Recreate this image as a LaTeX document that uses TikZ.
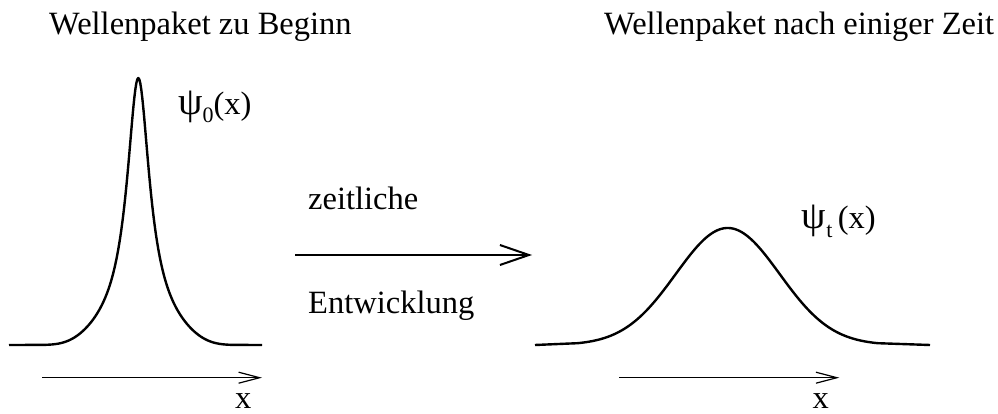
\documentclass[tikz,border=0pt]{standalone}
\usepackage{fontspec}
\setmainfont{Liberation Serif}
\usetikzlibrary{positioning,arrows.meta}

\begin{document}
\begin{tikzpicture}[
            x=1pt, y=-1pt,
            font=\fontsize{32.5}{39}\selectfont,
            txt/.style={inner sep=0pt, anchor=base west},
            wave/.style={line width=2.4pt, line join=round},
            axis/.style={-{Straight Barb[length=21pt, width=11pt]}, line width=1.2pt},
            evolve/.style={-{Straight Barb[length=29pt, width=20pt]}, line width=2pt}
            ]
            \useasboundingbox (0,0) rectangle (998,414);

            % ===== Titles =====
            \node[txt] (titleA) at (49,35) {Wellenpaket zu Beginn};
            \node[txt] (titleB) at (604,35) {Wellenpaket nach einiger Zeit};

            % ===== Packet at the start (narrow) =====
            \coordinate (baseA1) at (9,345);
            \coordinate (baseA2) at (262,345);
            \draw[wave] (baseA1) -- plot[domain=-95:95, samples=191]
                ({138.3+\x}, {345-267*exp(-(abs(\x)/65.1)^4)/(1+(\x/12.5)^2)^0.8}) -- (baseA2);
            \node[txt] (psiA) at (178,115) {\scalebox{1.2}{ψ}\raisebox{-8pt}{\fontsize{22}{22}\selectfont 0}(x)};

            % ===== Packet after some time (wide) =====
            \coordinate (baseB1) at (535,345);
            \coordinate (baseB2) at (930,345);
            \draw[wave] (baseB1) -- plot[domain=-150:150, samples=151]
                ({727.7+\x}, {345-117*exp(-(\x/73.5)^2)}) -- (baseB2);
            \node[txt] (psiB) at (801.7,228.3) {\scalebox{1.2}{ψ}\raisebox{-9pt}{\fontsize{22}{22}\selectfont t}\,(x)};

            % ===== Time evolution arrow =====
            \coordinate (evoA) at (295,255);
            \coordinate (evoB) at (532,255);
            \draw[evolve] (evoA) -- (evoB);
            \node[txt] (evoTop) at (308,210) {zeitliche};
            \node[txt] (evoBot) at (308,313) {Entwicklung};

            % ===== x axes =====
            \coordinate (axA1) at (42,377.7);
            \coordinate (axA2) at (262,377.7);
            \draw[axis] (axA1) -- (axA2);
            \node[inner sep=0pt, anchor=base] (xA) at (243.3,408.5) {x};

            \coordinate (axB1) at (619,377.7);
            \coordinate (axB2) at (839.3,377.7);
            \draw[axis] (axB1) -- (axB2);
            \node[inner sep=0pt, anchor=base] (xB) at (820.7,408.5) {x};

        \end{tikzpicture}
\end{document}
